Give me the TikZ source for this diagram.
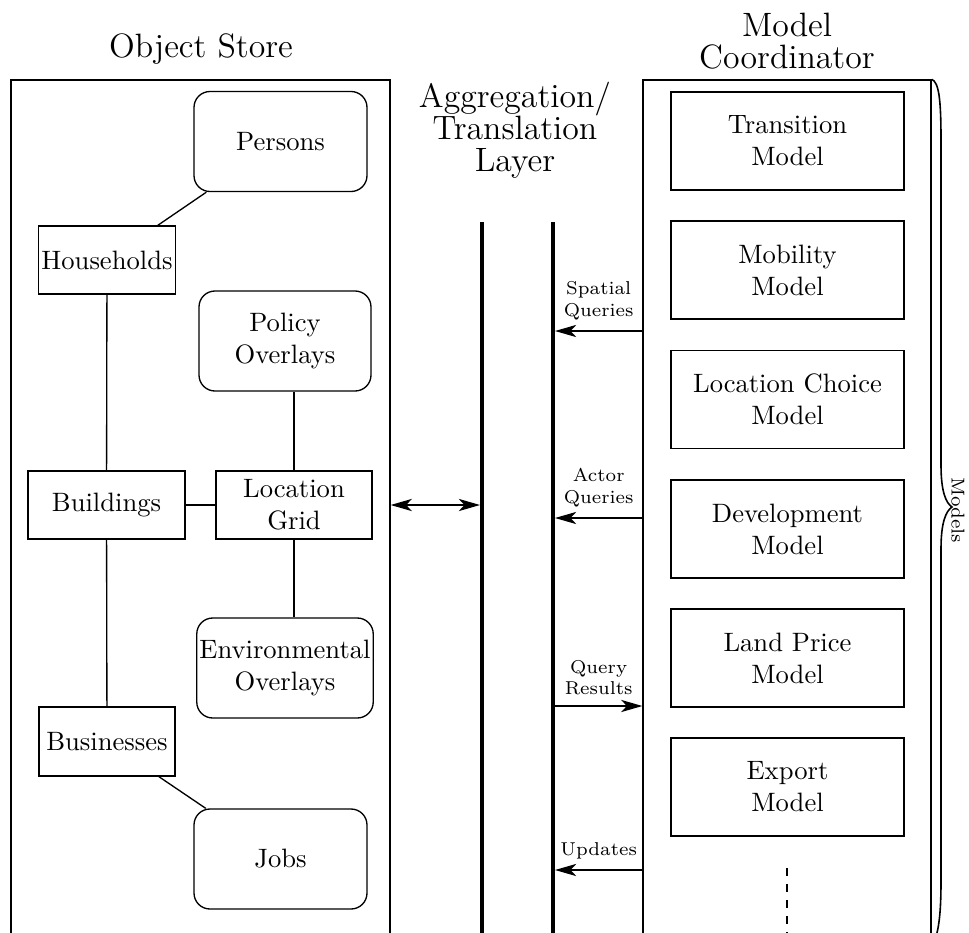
\documentclass[tikz,border=0pt]{standalone}
\usetikzlibrary{arrows.meta}
\newcommand\pu{0.376pt}
\begin{document}
\begin{tikzpicture}[x=0.376pt,y=-0.376pt,line width=0.5pt,
  box/.style={draw,align=center,inner sep=1pt,minimum width=#1*\pu},
  sqbox/.style={box=#1,minimum height=68*\pu},
  rbox/.style={box=#1,rounded corners=6pt,minimum height=100*\pu},
  mbox/.style={box=233,minimum height=98*\pu},
  frame/.style={draw,minimum height=880*\pu},
  title/.style={align=center,font=\fontsize{12.7}{12}\selectfont},
  lbl/.style={align=center,font=\scriptsize,inner sep=1pt},
  bar/.style={line width=1.5pt},
  arr/.style={-{Stealth[length=8pt,width=4.6pt,inset=2.2pt]}},
  darr/.style={{Stealth[length=8pt,width=4.6pt,inset=2.2pt]}-{Stealth[length=8pt,width=4.6pt,inset=2.2pt]}}]
\useasboundingbox (0,0) rectangle (969,932);
\clip (0,0) rectangle (969,932);

% object store and its contents
\node[frame,minimum width=379*\pu] (os) at (200.5,520) {};
\node[title] (ostitle) at (201,49) {Object Store};
\node[rbox=173] (per) at (280.5,141.5) {Persons};
\node[sqbox=136] (hh) at (107,260) {Households};
\node[rbox=172] (pol) at (285,341) {Policy\\Overlays};
\node[sqbox=157] (bld) at (106.5,505) {Buildings};
\node[sqbox=156] (loc) at (294,505) {Location\\Grid};
\node[rbox=172] (env) at (285,668) {Environmental\\Overlays};
\node[sqbox=136,minimum height=69*\pu] (bus) at (107,741.5) {Businesses};
\node[rbox=173] (job) at (280.5,859) {Jobs};

\draw (hh) -- (per);
\draw (hh) -- (bld);
\draw (bld) -- (bus);
\draw (bus) -- (job);
\draw (bld) -- (loc);
\draw (loc) -- (loc |- pol.south);
\draw (loc) -- (loc |- env.north);

% aggregation / translation layer
\node[title] (agtitle) at (515,130) {Aggregation/\\Translation\\Layer};
\coordinate (bt) at (0,932);
\coordinate (aL) at (482,222);
\coordinate (aR) at (553,222);
\coordinate (aLe) at (480,222);
\coordinate (aRe) at (555,222);
\draw[bar] (aL) -- (aL |- 0,960);
\draw[bar] (aR) -- (aR |- 0,960);
\draw[darr] (loc -| os.east) -- (loc -| aLe);

% model coordinator
\node[frame,minimum width=288*\pu] (mc) at (787,520) {};
\node[title] (mctitle) at (787,41) {Model\\Coordinator};
\node[mbox] (m1) at (787.5,141) {Transition\\Model};
\node[mbox] (m2) at (787.5,270) {Mobility\\Model};
\node[mbox] (m3) at (787.5,399.5) {Location Choice\\Model};
\node[mbox] (m4) at (787.5,529) {Development\\Model};
\node[mbox] (m5) at (787.5,658) {Land Price\\Model};
\node[mbox] (m6) at (787.5,787) {Export\\Model};
\coordinate (more) at (787,868);
\draw[dashed] (more) -- (more |- bt);

% queries and results between the layer and the models
\coordinate (r1) at (0,331);
\coordinate (r2) at (0,518);
\coordinate (r3) at (0,706);
\coordinate (r4) at (0,870);
\draw[arr] (mc.west |- r1) -- node[lbl,above=3pt] {Spatial\\Queries} (aRe |- r1);
\draw[arr] (mc.west |- r2) -- node[lbl,above=3pt] {Actor\\Queries} (aRe |- r2);
\draw[arr] (aRe |- r3) -- node[lbl,above=3pt] {Query\\Results} (mc.west |- r3);
\draw[arr] (mc.west |- r4) -- node[lbl,above=3pt] {Updates} (aRe |- r4);

% tall brace over the model column
\draw[line width=0.6pt] (mc.north east)
  .. controls (939,82) and (941,100) .. (941,140) -- (941,465)
  .. controls (941,492) and (946,503) .. (952,507)
  .. controls (946,511) and (941,522) .. (941,549) -- (941,880)
  .. controls (941,905) and (940,925) .. (935,940);
\node[lbl,rotate=-90] (models) at (958,510) {Models};
\end{tikzpicture}
\end{document}
